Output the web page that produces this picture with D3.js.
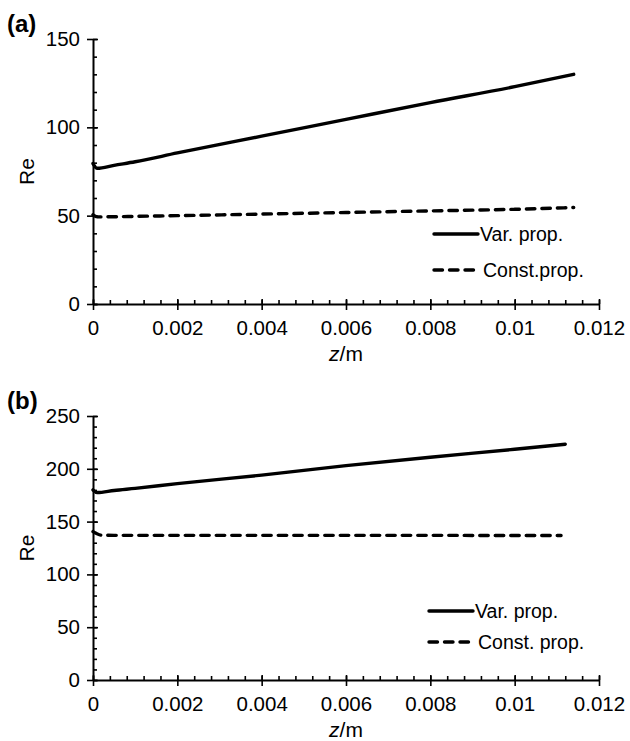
<!DOCTYPE html>
<html>
<head>
<meta charset="utf-8">
<script src="https://cdn.jsdelivr.net/npm/d3@7"></script>
<style>
  body { margin: 0; background: #fff; }
  text { font-family: "Liberation Sans", Arial, Helvetica, sans-serif; fill: #000; }
</style>
</head>
<body>
<script>
// panel (a)
var zA = [0, 0.0001, 0.0005, 0.001, 0.002, 0.004, 0.006, 0.008, 0.010, 0.0114];
var varA = [79.5, 76.8, 78.5, 80.5, 85.5, 95, 104.5, 114, 123, 130];
var constA = [50.5, 49.3, 49.4, 49.6, 50, 50.9, 51.8, 52.7, 53.6, 54.6];

// panel (b)
var zB = [0, 0.0001, 0.0005, 0.001, 0.002, 0.004, 0.006, 0.008, 0.010, 0.0112];
var varB = [180, 177.5, 179.5, 181.5, 186, 194, 203, 211, 218.5, 223.3];
var zBc = [0, 0.0002, 0.0005, 0.001, 0.002, 0.004, 0.006, 0.008, 0.010, 0.0111];
var constB = [140.5, 137.2, 137, 137, 137, 137, 137, 137, 136.8, 136.8];

var xTicks = [0, 0.002, 0.004, 0.006, 0.008, 0.01, 0.012];
var xTickLabels = ['0', '0.002', '0.004', '0.006', '0.008', '0.01', '0.012'];
var yTicksA = [0, 50, 100, 150];
var yTicksB = [0, 50, 100, 150, 200, 250];
var legendLabelsA = ['Var. prop.', 'Const.prop.'];
var legendLabelsB = ['Var. prop.', 'Const. prop.'];

var width = 630,
    height = 741;

var svg = d3.select('body').append('svg')
    .attr('width', width)
    .attr('height', height);

var x = d3.scaleLinear().domain([0, 0.012]).range([93, 599]);

function range(a, b, step) {
    return d3.range(Math.round((b - a) / step) + 1).map(function (i) { return a + i * step; });
}

function panel(opts) {
    var y = d3.scaleLinear().domain([0, opts.ymax]).range(opts.yRange);
    var g = svg.append('g');
    var y0 = y(0);

    // minor ticks (inside)
    g.append('g')
        .attr('transform', 'translate(' + x(0) + ',0)')
        .call(d3.axisRight(y).tickValues(range(0, opts.ymax, 10)).tickSize(4).tickFormat(''))
        .call(function (s) { s.select('.domain').remove(); });
    g.append('g')
        .attr('transform', 'translate(0,' + y0 + ')')
        .call(d3.axisTop(x).tickValues(range(0, 0.012, 0.0004)).tickSize(4).tickFormat(''))
        .call(function (s) { s.select('.domain').remove(); });

    // major y axis
    var ya = g.append('g')
        .attr('transform', 'translate(' + x(0) + ',0)')
        .call(d3.axisLeft(y).tickValues(opts.yTicks).tickSize(6).tickSizeOuter(0).tickPadding(7));
    ya.selectAll('.tick line').attr('x1', 5);

    // major x axis
    var xa = g.append('g')
        .attr('transform', 'translate(0,' + y0 + ')')
        .call(d3.axisBottom(x).tickValues(xTicks).tickSize(6).tickSizeOuter(0).tickPadding(10)
            .tickFormat(function (d, i) { return xTickLabels[i]; }));
    xa.selectAll('.tick line').attr('y1', -5);

    g.selectAll('.domain').attr('stroke', '#000').attr('stroke-width', 2);
    g.selectAll('.tick line').attr('stroke', '#000').attr('stroke-width', 1.6);
    g.selectAll('.tick text')
        .style('font-family', '"Liberation Sans", Arial, sans-serif')
        .style('font-size', '20.5px')
        .attr('fill', '#000');

    var line = d3.line()
        .x(function (d) { return x(d[0]); })
        .y(function (d) { return y(d[1]); })
        .curve(d3.curveMonotoneX);

    g.append('path')
        .datum(d3.zip(opts.zVar, opts.varVals))
        .attr('d', line)
        .attr('fill', 'none')
        .attr('stroke', '#000')
        .attr('stroke-width', 3.4)
        .attr('stroke-linecap', 'round')
        .attr('stroke-linejoin', 'round');

    g.append('path')
        .datum(d3.zip(opts.zConst, opts.constVals))
        .attr('d', line)
        .attr('fill', 'none')
        .attr('stroke', '#000')
        .attr('stroke-width', 3.4)
        .attr('stroke-linecap', 'round')
        .attr('stroke-dasharray', '8.5,7');

    // labels
    svg.append('text')
        .attr('x', 7)
        .attr('y', opts.tagY)
        .style('font-size', '24px')
        .style('font-weight', 'bold')
        .text(opts.tag);

    svg.append('text')
        .attr('transform', 'translate(34,' + (y(0) + y(opts.ymax)) / 2 + ') rotate(-90)')
        .attr('text-anchor', 'middle')
        .style('font-size', '21px')
        .text('Re');

    var zt = svg.append('text')
        .attr('x', (x(0) + x(0.012)) / 2)
        .attr('y', y0 + opts.zLabelDy)
        .attr('text-anchor', 'middle')
        .style('font-size', '21px');
    zt.append('tspan').style('font-style', 'italic').text('z');
    zt.append('tspan').text('/m');

    // legend
    var lg = svg.append('g');
    opts.legend.forEach(function (lab, i) {
        var ly = opts.legendY[i];
        lg.append('line')
            .attr('x1', opts.legendX)
            .attr('x2', opts.legendX + (i === 0 ? 44 : 40))
            .attr('y1', ly).attr('y2', ly)
            .attr('stroke', '#000')
            .attr('stroke-width', 3.4)
            .attr('stroke-linecap', 'round')
            .attr('stroke-dasharray', i === 0 ? null : '8.5,7');
        lg.append('text')
            .attr('x', opts.legendX + (i === 0 ? 46 : 49))
            .attr('y', ly + 7)
            .style('font-size', '19.5px')
            .text(lab);
    });
}

panel({
    ymax: 150, yRange: [304, 39], yTicks: yTicksA,
    zVar: zA, varVals: varA, zConst: zA, constVals: constA,
    tag: '(a)', tagY: 32, zLabelDy: 57,
    legend: legendLabelsA, legendX: 434, legendY: [234, 270]
});

panel({
    ymax: 250, yRange: [680, 416], yTicks: yTicksB,
    zVar: zB, varVals: varB, zConst: zBc, constVals: constB,
    tag: '(b)', tagY: 409, zLabelDy: 57,
    legend: legendLabelsB, legendX: 429, legendY: [611, 642]
});
</script>
</body>
</html>
